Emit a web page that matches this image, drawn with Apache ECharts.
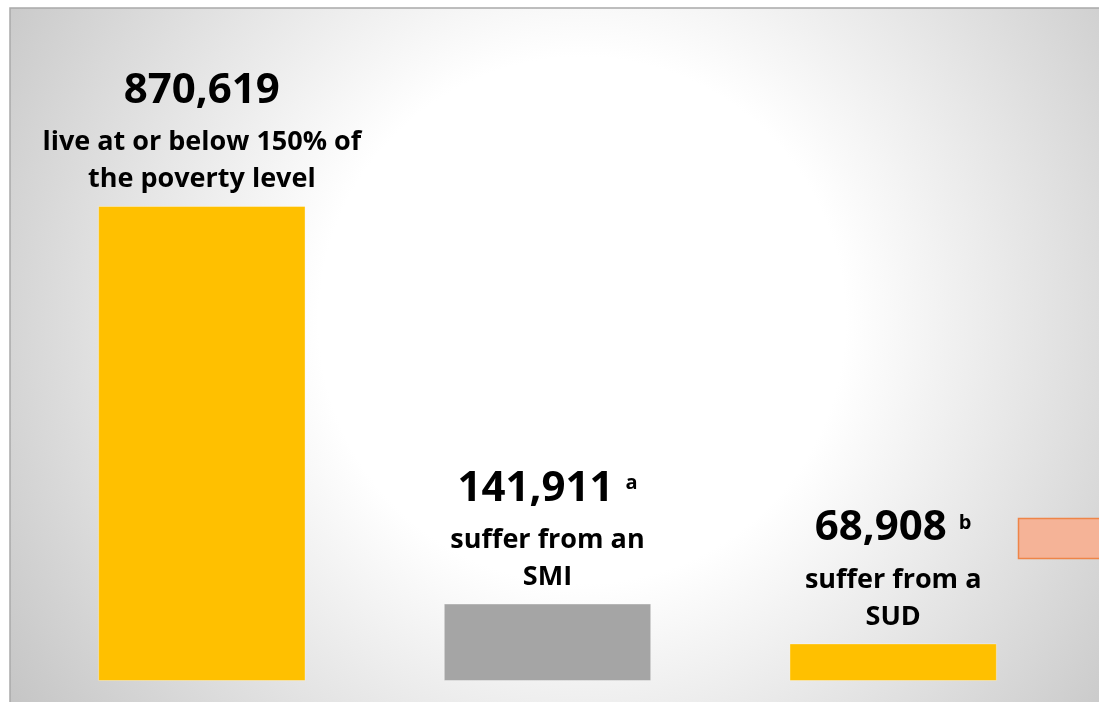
<!DOCTYPE html>
<html>
<head>
<meta charset="utf-8">
<script src="https://cdn.jsdelivr.net/npm/echarts@6/dist/echarts.min.js"></script>
<style>
  html, body { margin: 0; padding: 0; background: #fff; }
  #main { width: 1099px; height: 702px; }
</style>
</head>
<body>
<div id="main"></div>
<script type="text/javascript">
	// 数据
	var categories = ['Poverty', 'SMI', 'SUD'];
	var values = [870619, 141911, 68908];
	var notes = ['', 'a', 'b']; // 上标
	var descLines = [
		['live at or below 150% of', 'the poverty level'],
		['suffer from an', 'SMI'],
		['suffer from a', 'SUD']
	];
	var barColors = ['#FFC000', '#A5A5A5', '#FFC000'];

	var myEcharts = echarts.init(document.getElementById('main'));
	var option = {
		animation: false,
		textStyle: {fontFamily: 'Open Sans'},
		// 背景：径向渐变（只有上边和左边有边线）+ 右侧橙色块
		graphic: [
			{
				type: 'rect', z: -10, silent: true,
				shape: {x: 10, y: 8, width: 1100, height: 710},
				style: {
					fill: new echarts.graphic.RadialGradient(0.52, 0.44, 1.0, [
						{offset: 0, color: '#ffffff'},
						{offset: 0.37, color: '#ffffff'},
						{offset: 1, color: '#c2c2c2'}
					]),
					stroke: '#a9a9a9', lineWidth: 1.5
				}
			},
			{
				type: 'rect', z: -5, silent: true,
				shape: {x: 1018.5, y: 518.5, width: 90, height: 40},
				style: {fill: '#f5b397', stroke: '#ee8548', lineWidth: 1.5}
			}
		],
		grid: {left: 29, right: 33, top: 206, bottom: 21},
		xAxis: {
			type: 'category',
			data: categories,
			show: false
		},
		yAxis: {type: 'value', min: 0, max: 'dataMax', show: false},
		series: [
			{
				type: 'bar',
				barWidth: '60%',
				data: values,
				itemStyle: {
					color: function (p) { return barColors[p.dataIndex]; },
					borderColor: 'rgba(255,255,255,0.35)',
					borderWidth: 1
				},
				label: {
					show: true,
					position: 'top',
					distance: 8,
					align: 'center',
					formatter: function (p) {
						var i = p.dataIndex;
						var s = '{n|' + values[i].toLocaleString('en-US') + '}';
						if (notes[i]) s += '{s|' + notes[i] + '}';
						return s + '\n' + descLines[i].map(function (t) { return '{t|' + t + '}'; }).join('\n');
					},
					rich: {
						n: {fontSize: 42, fontWeight: 'bold', color: '#000', lineHeight: 66, fontFamily: 'Open Sans'},
						s: {fontSize: 20, fontWeight: 'bold', color: '#000', lineHeight: 20, verticalAlign: 'top', padding: [18, 0, 0, 12], fontFamily: 'Open Sans'},
						t: {fontSize: 27, fontWeight: 'bold', color: '#000', lineHeight: 37, fontFamily: 'Open Sans'}
					}
				}
			}
		]
	};
	myEcharts.setOption(option);
</script>
</body>
</html>
